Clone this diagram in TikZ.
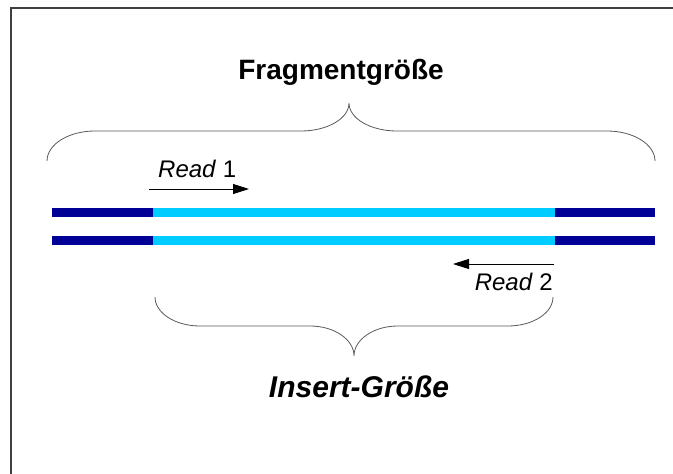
\documentclass[tikz,border=0pt]{standalone}
\usepackage{fontspec}
\setmainfont{Liberation Sans}
\usetikzlibrary{arrows.meta}

\definecolor{adapter}{RGB}{0,0,150}
\definecolor{insert}{RGB}{0,204,255}

\begin{document}
\begin{tikzpicture}[x=1pt, y=-1pt]
\tikzstyle{title}=[inner sep=0pt, font=\fontsize{28}{32}\selectfont\bfseries]
\tikzstyle{readlabel}=[inner sep=0pt, font=\fontsize{24}{27}\selectfont]
\tikzstyle{strand}=[line width=9.5pt]
\tikzstyle{readarrow}=[line width=0.9pt, -{Triangle[length=16pt,width=10pt]}]
\tikzstyle{brace}=[line width=0.8pt, draw=black!65]
\useasboundingbox (0,0) rectangle (673,474);
% frame
\draw[line width=1.4pt, black!75] (11,474) -- (11,8) -- (673,8);
% strands
\coordinate (a1) at (52,212.5);  \coordinate (b1) at (153,212.5);
\coordinate (c1) at (555,212.5); \coordinate (d1) at (655,212.5);
\coordinate (a2) at (52,240.5);  \coordinate (b2) at (153,240.5);
\coordinate (c2) at (555,240.5); \coordinate (d2) at (655,240.5);
\foreach \s in {1,2} {
  \draw[strand, adapter] (a\s) -- (b\s);
  \draw[strand, insert] (b\s) -- (c\s);
  \draw[strand, adapter] (c\s) -- (d\s);
}
% reads
\node[readlabel, anchor=base west] (r1) at (158,177) {\textit{Read} 1};
\coordinate (r1s) at (149,189);
\coordinate (r1e) at (249,189);
\draw[readarrow] (r1s) -- (r1e);
\node[readlabel, anchor=base east] (r2) at (553,290) {\textit{Read} 2};
\coordinate (r2s) at (554,264);
\coordinate (r2e) at (453,264);
\draw[readarrow] (r2s) -- (r2e);
% braces
\draw[brace] (47,161) arc[start angle=180, end angle=270, x radius=48, y radius=30]
  -- (301,131) arc[start angle=90, end angle=0, x radius=48, y radius=28]
  arc[start angle=180, end angle=90, x radius=48, y radius=28]
  -- (607,131) arc[start angle=270, end angle=360, x radius=48, y radius=30];
\draw[brace] (155,297) arc[start angle=180, end angle=90, x radius=45, y radius=29]
  -- (310,326) arc[start angle=270, end angle=360, x radius=44, y radius=30]
  arc[start angle=180, end angle=270, x radius=44, y radius=30]
  -- (508,326) arc[start angle=90, end angle=0, x radius=45, y radius=29];
% sizes
\node[title, anchor=base] (frag) at (341,79) {Fragmentgröße};
\node[title, anchor=base, font=\fontsize{30}{34}\selectfont\bfseries\itshape] (ins) at (359,397) {Insert-Größe};
\end{tikzpicture}
\end{document}
